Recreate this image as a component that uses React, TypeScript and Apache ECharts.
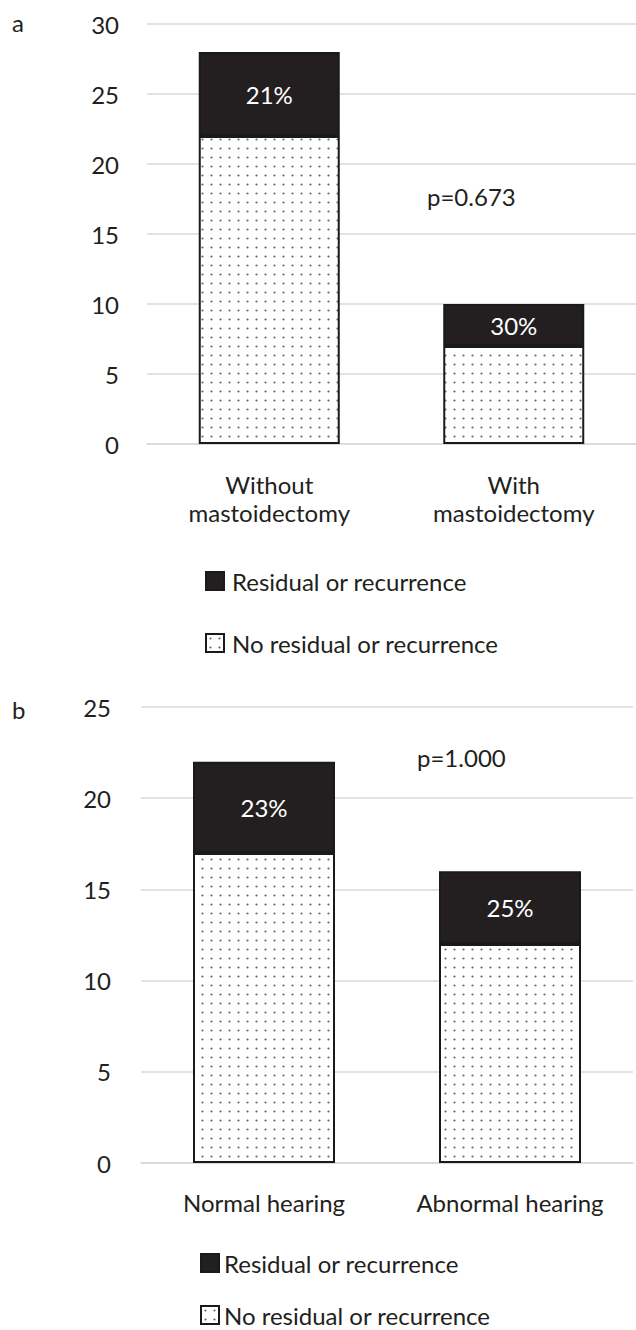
import React, { useEffect, useRef } from "react";
import * as echarts from "echarts";

// Panel a: mastoidectomy groups
const categoriesA = ["Without\nmastoidectomy", "With\nmastoidectomy"];
const noResidualA = [22, 7];
const residualA = [6, 3];
const pValueA = "p=0.673";

// Panel b: hearing groups
const categoriesB = ["Normal hearing", "Abnormal hearing"];
const noResidualB = [17, 12];
const residualB = [5, 4];
const pValueB = "p=1.000";

const yMaxA = 30;
const yMaxB = 25;
const yStep = 5;

const seriesNames = ["Residual or recurrence", "No residual or recurrence"];

const FONT = "Lato";
const TEXT = "#231f20";
const GRID_LINE = "#d9d9d9";
const DARK = "#231f20";
const EDGE = "#1a1a1a";

function makeDots() {
  const c = document.createElement("canvas");
  c.width = 9;
  c.height = 9;
  const ctx = c.getContext("2d")!;
  ctx.fillStyle = "#ffffff";
  ctx.fillRect(0, 0, 9, 9);
  ctx.fillStyle = "#666666";
  ctx.beginPath();
  ctx.arc(4.5, 4.5, 1.1, 0, Math.PI * 2);
  ctx.fill();
  return c.toDataURL();
}

function pct(res: number[], no: number[], i: number) {
  return Math.round((res[i] / (res[i] + no[i])) * 100) + "%";
}

export default function App() {
  const ref = useRef<HTMLDivElement>(null);

  useEffect(() => {
    document.body.style.margin = "0";
    if (!ref.current) return;
    const chart = echarts.init(ref.current, null, { renderer: "svg" });

    const dots = {
      image: makeDots(),
      imageWidth: 9,
      imageHeight: 9,
      repeat: "repeat",
    };

    const yAxisBase = (max: number, margin: number) => ({
      type: "value",
      min: 0,
      max,
      interval: yStep,
      axisLine: { show: false },
      axisTick: { show: false },
      axisLabel: { margin, fontSize: 24, color: TEXT, fontFamily: FONT },
      splitLine: { lineStyle: { color: GRID_LINE, width: 1.5 } },
    });

    const xAxisBase = (data: string[], gridIndex: number, margin: number) => ({
      type: "category",
      gridIndex,
      data,
      axisLine: { lineStyle: { color: GRID_LINE, width: 1.5 } },
      axisTick: { show: false },
      axisLabel: {
        margin,
        fontSize: 24,
        lineHeight: 28,
        color: TEXT,
        fontFamily: FONT,
        interval: 0,
      },
    });

    const noResStyle = { color: dots, borderColor: EDGE, borderWidth: 2 };
    const resStyle = { color: DARK, borderColor: EDGE, borderWidth: 2 };

    const resLabel = (res: number[], no: number[]) => ({
      show: true,
      position: "inside",
      color: "#ffffff",
      fontSize: 24,
      fontFamily: FONT,
      formatter: (p: any) => pct(res, no, p.dataIndex),
    });

    const legendBase = (left: number, top: number, gap: number, textPad: number) => ({
      data: [seriesNames[0], seriesNames[1]],
      orient: "vertical",
      left,
      top,
      height: 140,
      padding: 0,
      icon: "rect",
      itemWidth: 18,
      itemHeight: 18,
      itemGap: gap,
      selectedMode: false,
      textStyle: {
        fontSize: 24,
        lineHeight: 22,
        color: TEXT,
        fontFamily: FONT,
        padding: [0, 0, 0, textPad],
      },
    });

    chart.setOption({
      animation: false,
      backgroundColor: "#ffffff",
      textStyle: { fontFamily: FONT },
      grid: [
        { left: 147, top: 24, width: 494, height: 420 },
        { left: 141, top: 707, width: 492, height: 456 },
      ],
      xAxis: [xAxisBase(categoriesA, 0, 26), xAxisBase(categoriesB, 1, 25)],
      yAxis: [
        { ...yAxisBase(yMaxA, 28), gridIndex: 0 },
        { ...yAxisBase(yMaxB, 30), gridIndex: 1 },
      ],
      legend: [legendBase(205, 569, 38, 3), legendBase(200, 1251, 28, 0)],
      series: [
        {
          name: seriesNames[1],
          type: "bar",
          stack: "a",
          xAxisIndex: 0,
          yAxisIndex: 0,
          barWidth: 141,
          data: noResidualA,
          itemStyle: noResStyle,
        },
        {
          name: seriesNames[0],
          type: "bar",
          stack: "a",
          xAxisIndex: 0,
          yAxisIndex: 0,
          barWidth: 141,
          data: residualA,
          itemStyle: resStyle,
          label: resLabel(residualA, noResidualA),
        },
        {
          name: seriesNames[1],
          type: "bar",
          stack: "b",
          xAxisIndex: 1,
          yAxisIndex: 1,
          barWidth: 142,
          data: noResidualB,
          itemStyle: noResStyle,
        },
        {
          name: seriesNames[0],
          type: "bar",
          stack: "b",
          xAxisIndex: 1,
          yAxisIndex: 1,
          barWidth: 142,
          data: residualB,
          itemStyle: resStyle,
          label: resLabel(residualB, noResidualB),
        },
      ],
      graphic: [
        {
          type: "text",
          left: 12,
          top: 10,
          style: { text: "a", fontSize: 24, fill: TEXT, fontFamily: FONT },
        },
        {
          type: "text",
          left: 12,
          top: 697,
          style: { text: "b", fontSize: 24, fill: TEXT, fontFamily: FONT },
        },
        {
          type: "text",
          left: 427,
          top: 184,
          style: { text: pValueA, fontSize: 24, fill: TEXT, fontFamily: FONT },
        },
        {
          type: "text",
          left: 417,
          top: 745,
          style: { text: pValueB, fontSize: 24, fill: TEXT, fontFamily: FONT },
        },
      ],
    });

    return () => chart.dispose();
  }, []);

  return <div ref={ref} style={{ width: 636, height: 1330 }} />;
}
